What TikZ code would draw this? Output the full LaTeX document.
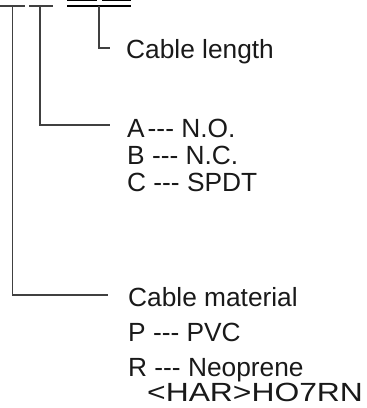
\documentclass[tikz,border=0pt]{standalone}
\usepackage{graphicx}
\usepackage{fontspec}
\setmainfont{Liberation Sans}
\usetikzlibrary{calc}
\newcommand\dsh{\mbox{-}\mbox{-}\mbox{-}}
\begin{document}
\begin{tikzpicture}[x=1pt,y=-1pt,
  bar/.style={line width=2pt, draw=black!75},
  topline/.style={line width=2.6pt, draw=black},
  con/.style={line width=1.6pt, draw=black!75},
  lab/.style={anchor=base west, inner sep=0pt, font=\fontsize{26.3}{28}\selectfont, text=black!90}]
\useasboundingbox (0,0) rectangle (367,408);
% top marks
\draw[bar] (0,6) -- (25,6);
\draw[bar] (29,6) -- (53,6);
\draw[topline] (67,6) -- (131,6);
\draw[topline] (67,0) -- (97,0);
\draw[topline] (102,0) -- (131,0);
% labels
\node[lab] (len) at (126,58) {Cable length};
\node[lab] (a) at (127,137) {A\hspace{3pt}\dsh\ N.O.};
\node[lab] (b) at (127,164) {B \dsh\ N.C.};
\node[lab] (c) at (127,191) {C \dsh\ SPDT};
\node[lab] (mat) at (128,306) {Cable material};
\node[lab] (p) at (128,341) {P \dsh\ PVC};
\node[lab] (r) at (128,376) {R \dsh\ Neoprene};
\node[lab] (har) at (147,401) {\scalebox{1.21}[1]{<HAR>HO7RN}};
% connectors
\coordinate (v1) at (12.5,6);
\coordinate (v2) at (40,6);
\coordinate (v3) at (99,6);
\draw[con] (v1) |- ($(mat.base west)+(-20,-11)$);
\draw[con] (v2) |- ($(a.base west)+(-17,-12)$);
\draw[con] (v3) |- ($(len.base west)+(-16,-10)$);
\end{tikzpicture}
\end{document}
